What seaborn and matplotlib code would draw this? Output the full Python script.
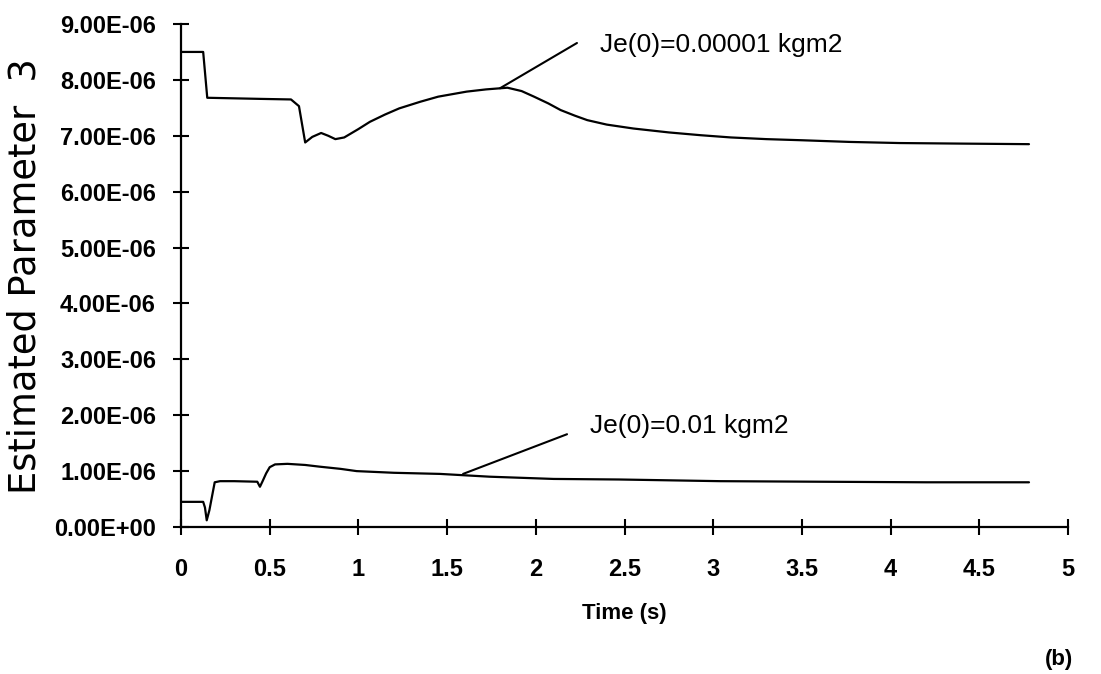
import numpy as np
import pandas as pd
import matplotlib
matplotlib.use("Agg")
import matplotlib.pyplot as plt
from matplotlib.ticker import FuncFormatter, MultipleLocator
import seaborn as sns

# ---------------- data ----------------
SCALE = 1e-6
t_small = [0.0, 0.125, 0.148, 0.30, 0.45, 0.62, 0.665, 0.70, 0.74, 0.79, 0.83,
           0.87, 0.92, 1.00, 1.065, 1.15, 1.23, 1.35, 1.45, 1.61, 1.72, 1.80,
           1.84, 1.92, 1.99, 2.07, 2.14, 2.22, 2.29, 2.40, 2.55, 2.75, 2.93,
           3.10, 3.30, 3.50, 3.77, 4.05, 4.40, 4.78]
v_small = [8.50, 8.50, 7.68, 7.67, 7.66, 7.65, 7.53, 6.88, 6.98, 7.05, 7.00,
           6.94, 6.97, 7.12, 7.25, 7.38, 7.49, 7.61, 7.70, 7.79, 7.83, 7.85,
           7.86, 7.80, 7.70, 7.58, 7.46, 7.36, 7.28, 7.20, 7.13, 7.06, 7.01,
           6.97, 6.94, 6.92, 6.89, 6.87, 6.86, 6.85]

t_large = [0.0, 0.125, 0.135, 0.145, 0.16, 0.175, 0.19, 0.22, 0.30, 0.43,
           0.445, 0.46, 0.48, 0.50, 0.53, 0.60, 0.70, 0.78, 0.90, 0.99, 1.20,
           1.46, 1.74, 2.10, 2.47, 3.04, 3.60, 4.20, 4.78]
v_large = [0.45, 0.45, 0.35, 0.12, 0.30, 0.55, 0.80, 0.82, 0.82, 0.81,
           0.72, 0.82, 0.96, 1.07, 1.12, 1.13, 1.11, 1.08, 1.04, 1.00, 0.97,
           0.95, 0.90, 0.86, 0.85, 0.82, 0.81, 0.80, 0.80]

series_names = ["Je(0)=0.00001 kgm2", "Je(0)=0.01 kgm2"]
x_ticks = [0, 0.5, 1, 1.5, 2, 2.5, 3, 3.5, 4, 4.5, 5]
y_max = 9e-6

x_label = "Time (s)"
y_label = "Estimated Parameter  3"
panel_tag = "(b)"

# annotation layout (data coordinates)
ann_small_text = (2.36, 8.50e-6)
ann_small_line = ((2.232, 8.66e-6), (1.798, 7.85e-6))
ann_large_text = (2.306, 1.68e-6)
ann_large_line = ((2.176, 1.66e-6), (1.590, 0.95e-6))

# ---------------- build table ----------------
df = pd.concat([
    pd.DataFrame({"t": t_small, "v": np.array(v_small) * SCALE, "series": series_names[0]}),
    pd.DataFrame({"t": t_large, "v": np.array(v_large) * SCALE, "series": series_names[1]}),
], ignore_index=True)

# ---------------- style ----------------
sns.set_theme(style="white")
plt.rcParams["font.family"] = ["Liberation Sans", "DejaVu Sans"]

W, H = 1101, 674
fig = plt.figure(figsize=(W / 100, H / 100), dpi=100)
fig.patch.set_facecolor("white")
ax = fig.add_axes([181 / W, 1 - 527 / H, (1068 - 181) / W, (527 - 24) / H])
ax.set_facecolor("none")

sns.lineplot(data=df, x="t", y="v", hue="series", palette=["black", "black"],
             estimator=None, sort=False, legend=False, linewidth=1.6, ax=ax)

ax.set_xlim(0, 5)
ax.set_ylim(0, y_max)
ax.set_xticks(x_ticks)
ax.yaxis.set_major_locator(MultipleLocator(1e-6))
ax.xaxis.set_major_formatter(FuncFormatter(lambda v, p: f"{v:g}"))
ax.yaxis.set_major_formatter(FuncFormatter(lambda v, p: f"{v:.2E}"))

for s in ["top", "right"]:
    ax.spines[s].set_visible(False)
for s in ["left", "bottom"]:
    ax.spines[s].set_linewidth(1.6)
    ax.spines[s].set_color("black")

ax.tick_params(axis="both", which="major", direction="inout", length=11, width=1.5,
               color="black", bottom=True, left=True)
ax.tick_params(axis="x", pad=16.5, labelsize=17)
ax.tick_params(axis="y", pad=12.5, labelsize=17)
for lab in ax.get_xticklabels() + ax.get_yticklabels():
    lab.set_fontweight("bold")
    lab.set_color("black")

ax.set_xlabel(x_label, fontsize=16, fontweight="bold", color="black")
ax.xaxis.label.set_va("center")
ax.xaxis.set_label_coords(0.5, (527 - 613) / 503)

ax.set_ylabel(y_label, fontsize=26.5, color="black", family=["DejaVu Sans"],
              fontweight="normal")
ax.yaxis.label.set_va("center")
ax.yaxis.label.set_ha("center")
ax.yaxis.set_label_coords((25 - 181) / 887, (527 - 276) / 503)

# annotations
for (p0, p1), (tx, ty), name in [(ann_small_line, ann_small_text, series_names[0]),
                                 (ann_large_line, ann_large_text, series_names[1])]:
    ax.annotate("", xy=p1, xytext=p0,
                arrowprops=dict(arrowstyle="-", color="black", lw=1.5,
                                shrinkA=0, shrinkB=0))
    ax.text(tx, ty, name, fontsize=19, color="black", ha="left", va="baseline")

fig.text(1073 / W, 1 - 660 / H, panel_tag, fontsize=16, fontweight="bold",
         ha="right", va="center", color="black")

fig.savefig("out.png", dpi=100)
